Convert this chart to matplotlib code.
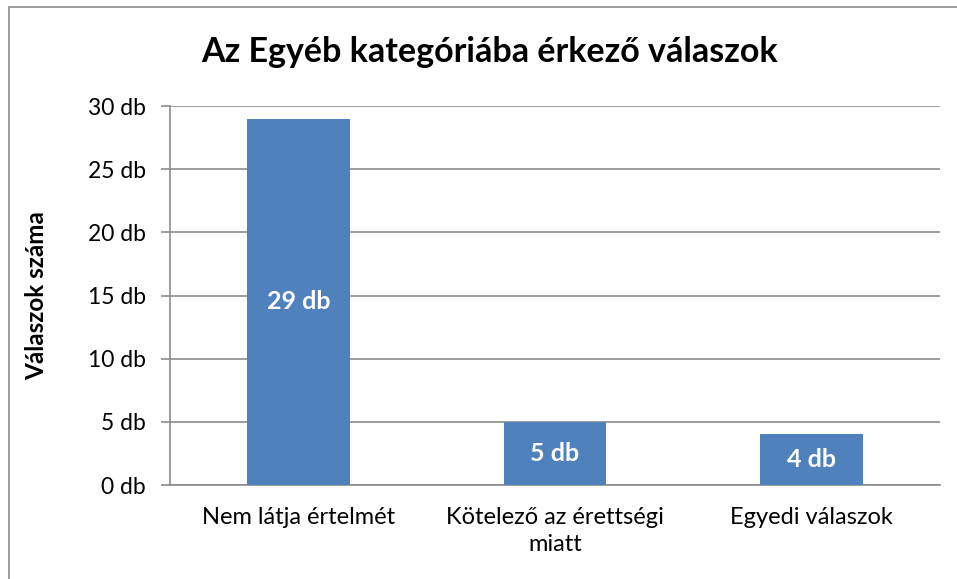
import matplotlib
matplotlib.use("Agg")
import matplotlib.pyplot as plt
from matplotlib.patches import Rectangle

categories = ["Nem látja értelmét", "Kötelező az érettségi\nmiatt", "Egyedi válaszok"]
values = [29, 5, 4]
yticks = [0, 5, 10, 15, 20, 25, 30]
ytick_labels = [f"{v} db" for v in yticks]
title = "Az Egyéb kategóriába érkező válaszok"
ylabel = "Válaszok száma"

plt.rcParams['font.family'] = ['Lato', 'DejaVu Sans']

fig = plt.figure(figsize=(9.57, 5.79), dpi=100)
ax = fig.add_axes([170/957, 1-485/579, (940-170)/957, (485-106)/579])

x = list(range(len(categories)))
bars = ax.bar(x, values, width=0.4, color="#4F81BD", zorder=3)
for xi, v in zip(x, values):
    ax.text(xi, v/2, f"{v} db", ha="center", va="center", color="white",
            fontsize=18, fontweight="bold", zorder=4)

ax.set_xlim(-0.5, 2.5)
ax.set_ylim(0, 30)
ax.set_yticks(yticks)
ax.set_yticklabels(ytick_labels, fontsize=16.5)
ax.set_xticks(x)
ax.set_xticklabels(categories, fontsize=17, linespacing=1.35)
ax.tick_params(axis="x", length=0, pad=16)
ax.tick_params(axis="y", length=6.5, color="#8C8C8C", width=1.2, pad=11)
ax.grid(axis="y", color="#8C8C8C", linewidth=1.2, zorder=0)
for s in ["top", "right"]:
    ax.spines[s].set_visible(False)
for s in ["left", "bottom"]:
    ax.spines[s].set_color("#8C8C8C")
    ax.spines[s].set_linewidth(1.2)

fig.text(490/957, 1-52/579, title, ha="center", va="center", fontsize=24.5, fontweight="bold")
fig.text(37/957, 1-296/579, ylabel, ha="center", va="center", rotation=90,
         fontsize=17.5, fontweight="bold")

fig.patches.append(Rectangle((9/957, -0.02), 1.0, 1-7/579+0.02, transform=fig.transFigure,
                             fill=False, edgecolor="#8C8C8C", linewidth=1.2))

fig.savefig("out.png", dpi=100)
